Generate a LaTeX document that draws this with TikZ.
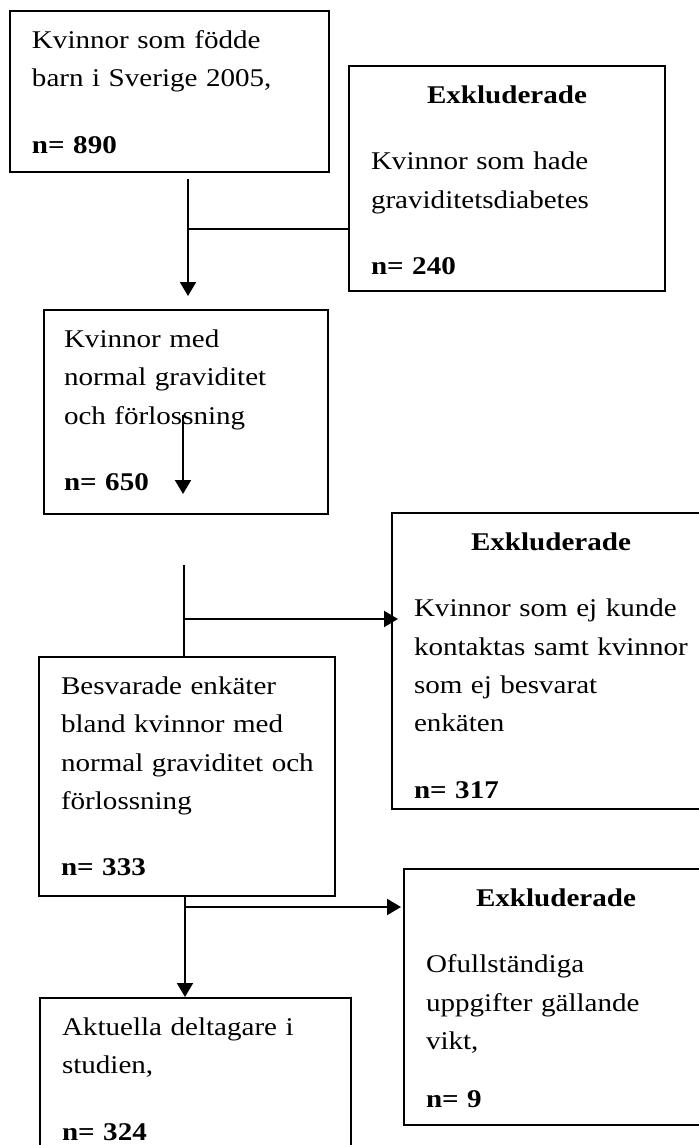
\documentclass[tikz,border=0pt]{standalone}
\usepackage{fontspec}
\setmainfont[FakeStretch=1.14]{Liberation Serif}
\usetikzlibrary{arrows.meta}

\begin{document}
\begin{tikzpicture}
[x=0.5pt, y=-0.5pt,
flowbox/.style={draw=black, line width=1pt, anchor=north west, inner xsep=11pt, inner ysep=0pt, align=left, text height=18.75pt, font=\fontsize{12.75pt}{19.15pt}\selectfont},
connect/.style={-{Triangle[length=7pt,width=8pt]}, line width=1pt},
link/.style={line width=1pt}]
\useasboundingbox (0, 0) rectangle (698, 1145);

\node[flowbox, text width=137.5pt, text depth=61.75pt]	(born) at (9, 10) {Kvinnor som födde\\ barn i Sverige 2005,\\[14pt] \textbf{n= 890}};
\node[flowbox, text width=136pt, text depth=93.75pt]	(excl1) at (348, 65) {\makebox[\linewidth]{\textbf{Exkluderade}}\\[14pt] Kvinnor som hade\\ graviditetsdiabetes\\[14pt] \textbf{n= 240}};
\node[flowbox, text width=122pt, inner xsep=10pt, text depth=83.25pt]	(normal) at (43, 309) {Kvinnor med\\ normal graviditet\\ och förlossning\\[14pt] \textbf{n= 650}};
\node[flowbox, text width=137pt, text depth=129.25pt]	(excl2) at (391, 512) {\makebox[\linewidth]{\textbf{Exkluderade}}\\[14pt] Kvinnor som ej kunde\\ \mbox{kontaktas samt kvinnor}\\ som ej besvarat\\ enkäten\\[14pt] \textbf{n= 317}};
\node[flowbox, text width=126pt, text depth=100.75pt]	(answered) at (38, 656) {Besvarade enkäter\\ bland kvinnor med\\ \mbox{normal graviditet och}\\ förlossning\\[14pt] \textbf{n= 333}};
\node[flowbox, text width=130pt, text depth=109.25pt]	(excl3) at (403, 868) {\makebox[\linewidth]{\textbf{Exkluderade}}\\[14pt] Ofullständiga\\ uppgifter gällande\\ vikt,\\[10pt] \textbf{n= 9}};
\node[flowbox, text width=133.5pt, text depth=67.75pt]	(final) at (39, 997) {Aktuella deltagare i\\ studien,\\[14pt] \textbf{n= 324}};

\coordinate (s1) at (188, 179);
\coordinate (j1) at (188, 229);
\coordinate (e1) at (188, 296);
\coordinate (s2) at (183, 415);
\coordinate (e2) at (183, 494);
\coordinate (s3) at (183.5, 565);
\coordinate (j2) at (183.5, 619);
\coordinate (e3) at (398, 619);
\coordinate (j3) at (185, 907);
\coordinate (e4) at (401, 907);

\draw[connect] (s1) -- (e1);
\draw[link] (j1) -- (j1 -| excl1.west);
\draw[connect] (s2) -- (e2);
\draw[link] (s3) -- (s3 |- answered.north);
\draw[connect] (j2) -- (e3);
\draw[connect] (j3 |- answered.south) -- (j3 |- final.north);
\draw[connect] (j3) -- (e4);

\end{tikzpicture}
\end{document}
